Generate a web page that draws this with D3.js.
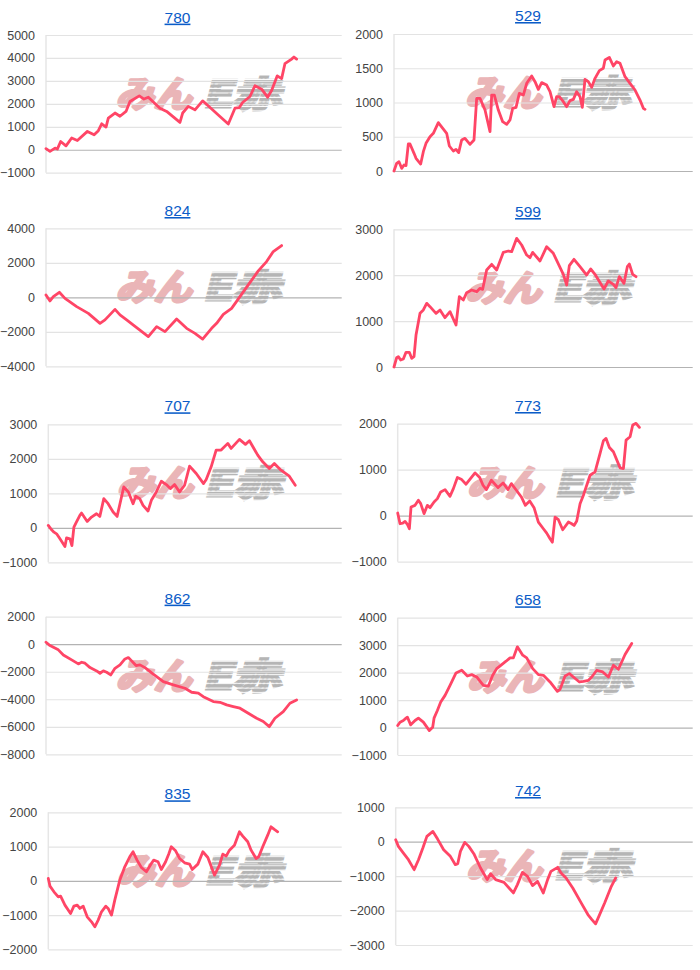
<!DOCTYPE html>
<html><head><meta charset="utf-8">
<script src="https://cdn.jsdelivr.net/npm/d3@7/dist/d3.min.js"></script>
<style>body{margin:0;background:#fff}</style>
</head><body><svg id="c" width="700" height="970"></svg>
<script>
const GAMES_MAX = 10000;
const titles = ["780","529","824","599","707","773","862","658","835","742"];

const ticks780 = [-1000,0,1000,2000,3000,4000,5000];
const ticks529 = [0,500,1000,1500,2000];
const ticks824 = [-4000,-2000,0,2000,4000];
const ticks599 = [0,1000,2000,3000];
const ticks707 = [-1000,0,1000,2000,3000];
const ticks773 = [-1000,0,1000,2000];
const ticks862 = [-8000,-6000,-4000,-2000,0,2000];
const ticks658 = [-1000,0,1000,2000,3000,4000];
const ticks835 = [-2000,-1000,0,1000,2000];
const ticks742 = [-3000,-2000,-1000,0,1000];

// [games, diff]
const s780 = [[0,50],[135,-70],[305,70],[383,30],[496,360],[676,170],[868,510],[1060,400],[1400,800],[1628,650],[1770,830],[1883,1130],[2030,990],[2107,1380],[2333,1600],[2502,1460],[2705,1670],[2840,2100],[3155,2350],[3313,2210],[3460,2290],[3854,1810],[4080,1670],[4530,1190],[4621,1600],[4812,1890],[5038,1740],[5297,2130],[5455,1950],[5883,1450],[6165,1120],[6390,1810],[6537,1840],[6649,2060],[6897,2320],[7066,2790],[7292,2640],[7494,2290],[7630,2580],[7821,3220],[7968,3100],[8080,3750],[8306,3950],[8385,4040],[8475,3950]];
const s529 = [[0,0],[89,112],[167,136],[257,39],[335,88],[402,78],[480,394],[536,394],[670,258],[737,185],[893,102],[982,282],[1071,404],[1205,501],[1317,550],[1484,706],[1763,550],[1853,365],[1986,292],[2076,316],[2165,268],[2265,453],[2377,477],[2544,389],[2678,453],[2768,1061],[2879,1061],[3047,890],[3214,574],[3270,1109],[3359,1109],[3493,890],[3638,720],[3772,681],[3884,745],[3973,915],[4085,929],[4196,1134],[4330,1109],[4442,1280],[4609,1387],[4721,1304],[4832,1192],[4944,1290],[5111,1255],[5223,1158],[5357,939],[5446,1085],[5535,1085],[5669,1012],[5781,939],[5892,1027],[6004,1046],[6116,1158],[6227,1085],[6305,929],[6394,1338],[6506,1304],[6618,1221],[6729,1353],[6875,1465],[7008,1499],[7064,1620],[7209,1659],[7343,1533],[7455,1596],[7566,1572],[7734,1377],[7901,1280],[8069,1182],[8236,1036],[8348,915],[8403,900]];
const s824 = [[0,135],[135,-210],[248,40],[451,290],[642,-60],[1037,-540],[1432,-930],[1826,-1510],[1995,-1310],[2333,-700],[2502,-1020],[2727,-1310],[3066,-1760],[3460,-2280],[3742,-1700],[4024,-1990],[4418,-1260],[4756,-1800],[5038,-2090],[5297,-2420],[5601,-1800],[5770,-1510],[5996,-990],[6277,-640],[6559,40],[6840,720],[7178,1530],[7460,2070],[7686,2650],[7968,3000]];
const s599 = [[0,0],[89,203],[145,225],[223,152],[312,174],[402,320],[513,320],[592,189],[670,225],[737,697],[871,1169],[982,1242],[1094,1387],[1205,1315],[1406,1169],[1540,1242],[1707,1075],[1875,1205],[2076,915],[2187,1532],[2321,1460],[2433,1619],[2600,1678],[2768,1641],[2879,1714],[2968,1692],[3102,2113],[3270,2237],[3437,2113],[3660,2498],[3828,2527],[3939,2513],[4107,2803],[4274,2658],[4442,2440],[4553,2382],[4642,2498],[4888,2309],[5111,2622],[5334,2476],[5669,2019],[5781,1786],[5870,2208],[6026,2346],[6227,2186],[6450,2004],[6584,2135],[6729,2019],[7030,1699],[7175,1874],[7343,1801],[7432,1728],[7544,1968],[7700,1823],[7812,2186],[7879,2244],[7990,2019],[8102,1968]];
const s707 = [[0,68],[113,-58],[193,-126],[283,-175],[397,-320],[567,-544],[623,-291],[737,-320],[805,-515],[873,19],[940,136],[1076,359],[1133,427],[1326,184],[1473,311],[1643,408],[1756,330],[1892,845],[2039,699],[2209,456],[2345,330],[2572,1184],[2730,1039],[2889,699],[2980,913],[3116,845],[3229,650],[3399,485],[3512,796],[3682,1039],[3852,1350],[4022,1252],[4158,1136],[4305,1252],[4475,1039],[4645,1233],[4815,1786],[5042,1573],[5291,1282],[5382,1398],[5551,1767],[5721,2252],[5891,2252],[6118,2447],[6232,2301],[6515,2563],[6719,2418],[6855,2524],[7138,2107],[7308,1913],[7534,1718],[7704,1864],[7931,1670],[8214,1495],[8418,1233]];
const s773 = [[0,58],[79,-175],[170,-160],[249,-124],[328,-189],[396,-284],[452,189],[588,225],[701,335],[780,262],[893,44],[1006,225],[1096,175],[1232,298],[1345,371],[1458,516],[1605,567],[1774,422],[1887,589],[2023,829],[2170,785],[2317,684],[2622,931],[2780,829],[2893,662],[3006,567],[3175,771],[3401,611],[3571,713],[3740,567],[3853,698],[4023,553],[4192,407],[4328,225],[4475,320],[4622,175],[4768,-138],[4938,-284],[5051,-378],[5164,-502],[5243,-575],[5334,-29],[5447,-87],[5594,-305],[5786,-138],[5899,-175],[5978,-211],[6069,-116],[6182,262],[6295,444],[6521,880],[6690,953],[6860,1353],[6973,1629],[7063,1680],[7176,1484],[7312,1389],[7538,1040],[7651,1025],[7741,1644],[7877,1716],[7967,1971],[8080,2007],[8193,1920]];
const s862 = [[0,145],[135,-100],[417,-410],[586,-780],[868,-1140],[1093,-1430],[1206,-1310],[1319,-1380],[1488,-1700],[1713,-1940],[1826,-2110],[1939,-1940],[2052,-2040],[2187,-2230],[2333,-1750],[2502,-1500],[2671,-1070],[2784,-970],[2896,-1210],[3043,-1550],[3178,-1500],[3347,-1700],[3629,-2180],[3967,-2720],[4305,-2960],[4700,-3200],[4925,-3490],[5151,-3560],[5320,-3810],[5658,-4170],[5883,-4220],[6109,-4410],[6334,-4530],[6559,-4650],[6841,-5020],[7123,-5380],[7348,-5620],[7551,-5990],[7742,-5380],[8024,-4900],[8249,-4290],[8475,-4050]];
const s658 = [[0,73],[79,195],[192,256],[282,341],[328,378],[441,98],[588,256],[701,341],[870,195],[1073,-110],[1186,12],[1232,341],[1345,622],[1458,927],[1605,1171],[1774,1537],[1977,1988],[2170,2085],[2362,1878],[2509,1927],[2678,1841],[2904,1537],[3074,1512],[3220,1902],[3356,2146],[3526,2293],[3673,2415],[3808,2537],[3921,2537],[4057,2939],[4238,2634],[4373,2537],[4577,2146],[4769,1927],[4938,1902],[5164,1659],[5413,1317],[5503,1390],[5673,1878],[5820,1963],[5956,1841],[6159,1659],[6295,1683],[6465,1720],[6578,1841],[6747,2085],[6951,2024],[7143,1841],[7312,2268],[7481,2122],[7707,2659],[7933,3061]];
const s835 = [[0,68],[57,-156],[193,-321],[340,-467],[419,-448],[567,-710],[759,-954],[872,-740],[986,-710],[1076,-808],[1190,-740],[1326,-1051],[1473,-1197],[1586,-1343],[1700,-1148],[1813,-905],[1960,-740],[2039,-808],[2153,-1002],[2266,-564],[2436,19],[2606,409],[2776,701],[2889,847],[3025,603],[3173,389],[3343,263],[3512,506],[3592,603],[3739,555],[3852,331],[3999,555],[4112,798],[4192,993],[4339,876],[4475,652],[4645,526],[4815,487],[4905,331],[5098,487],[5268,847],[5438,681],[5665,165],[5835,457],[5948,779],[6062,720],[6175,895],[6345,1041],[6515,1431],[6628,1304],[6798,1139],[6912,895],[7082,652],[7172,701],[7308,993],[7478,1333],[7591,1577],[7704,1499],[7818,1431]];
const s742 = [[0,58],[90,-135],[260,-329],[429,-522],[621,-812],[768,-522],[914,-184],[1050,155],[1253,300],[1411,77],[1614,-232],[1840,-425],[2009,-667],[2088,-638],[2179,-280],[2325,-19],[2461,-135],[2630,-348],[2856,-763],[3082,-1101],[3195,-928],[3365,-1101],[3647,-1179],[3816,-1343],[3963,-1488],[4098,-1246],[4268,-889],[4437,-1005],[4607,-1275],[4776,-1150],[4968,-1488],[5115,-1101],[5228,-860],[5454,-744],[5567,-908],[5736,-1053],[5962,-1343],[6245,-1778],[6471,-2116],[6606,-2261],[6730,-2386],[6866,-2116],[7035,-1778],[7261,-1295],[7408,-1053]];

const seriesList = [s780,s529,s824,s599,s707,s773,s862,s658,s835,s742];
const tickList = [ticks780,ticks529,ticks824,ticks599,ticks707,ticks773,ticks862,ticks658,ticks835,ticks742];

// layout (pixels)
const layout = [
  {left:46,   right:341.7, top:35,    bottom:172.7, tc:17.3},
  {left:394,  right:692.7, top:34,    bottom:171,   tc:15.7},
  {left:46,   right:341.7, top:228.3, bottom:366.3, tc:210.7},
  {left:394,  right:692.7, top:229.3, bottom:367,   tc:211.7},
  {left:48.3, right:341.7, top:424.3, bottom:562.3, tc:406},
  {left:397.7,right:692.7, top:423.7, bottom:561.7, tc:405.7},
  {left:46,   right:341.7, top:616.7, bottom:754.3, tc:598.3},
  {left:397.7,right:692.7, top:617.7, bottom:755,   tc:600},
  {left:48.3, right:341.7, top:812.3, bottom:949.3, tc:794},
  {left:395.7,right:692.7, top:807.3, bottom:945,   tc:790.7}
];

const svg = d3.select("#c");
const defs = svg.append("defs");
const pat = defs.append("pattern").attr("id","stripes")
  .attr("patternUnits","userSpaceOnUse").attr("width",8).attr("height",4.5);
pat.append("rect").attr("width",8).attr("height",3.2).attr("fill","#b5b5b5");

const FONT = "'Liberation Sans', Arial, sans-serif";

layout.forEach((L,i)=>{
  const data = seriesList[i], ticks = tickList[i];
  const panelX = i % 2 === 0 ? 0 : 350;
  const x = d3.scaleLinear().domain([0,GAMES_MAX]).range([L.left,L.right]);
  const y = d3.scaleLinear().domain(d3.extent(ticks)).range([L.bottom,L.top]);
  const g = svg.append("g");

  // title
  g.append("text")
    .attr("x", panelX + (i%2===0 ? 177.5 : 178))
    .attr("y", L.tc + 5.3)
    .attr("text-anchor","middle")
    .attr("font-family",FONT).attr("font-size",15.5)
    .attr("fill","#0b5cc8")
    .attr("text-decoration","underline")
    .text(titles[i]);

  // watermark
  const cx = (L.left+L.right)/2;
  const wm = g.append("g").attr("transform",`translate(${cx-83},${L.top+72}) skewX(-14)`);
  wm.append("text").attr("x",5).attr("y",0)
    .attr("font-family","'Noto Sans CJK JP'").attr("font-weight",700).attr("font-size",36)
    .attr("textLength",76).attr("lengthAdjust","spacingAndGlyphs")
    .attr("fill","#eab5b7").attr("stroke","#eab5b7").attr("stroke-width",3.2)
    .attr("stroke-linejoin","round").text("みん");
  wm.append("text").attr("x",92).attr("y",0)
    .attr("font-family","'Noto Sans CJK JP'").attr("font-weight",700).attr("font-size",36)
    .attr("textLength",78).attr("lengthAdjust","spacingAndGlyphs")
    .attr("fill","url(#stripes)").attr("stroke","url(#stripes)").attr("stroke-width",3)
    .text("E赤");

  // vertical axis line
  g.append("line").attr("x1",L.left).attr("x2",L.left).attr("y1",L.top).attr("y2",L.bottom)
    .attr("stroke","#e6e6e6").attr("stroke-width",1.5);

  // y axis with gridlines
  const ax = g.append("g").attr("transform",`translate(${L.left},0)`)
    .call(d3.axisLeft(y).tickValues(ticks).tickSize(-(L.right-L.left)).tickPadding(11).tickFormat(d3.format("d")));
  ax.select(".domain").remove();
  ax.selectAll(".tick line").attr("stroke", d => d===0 ? "#b3b3b3" : "#e3e3e3").attr("stroke-width",1.2);
  ax.selectAll(".tick text").attr("font-family",FONT).attr("font-size",12.5).attr("fill","#444");

  // line
  g.append("path").datum(data)
    .attr("d", d3.line().x(d=>x(d[0])).y(d=>y(d[1])))
    .attr("fill","none").attr("stroke","#ff4566").attr("stroke-width",2.8)
    .attr("stroke-linejoin","round").attr("stroke-linecap","round");
});
</script>
</body></html>
